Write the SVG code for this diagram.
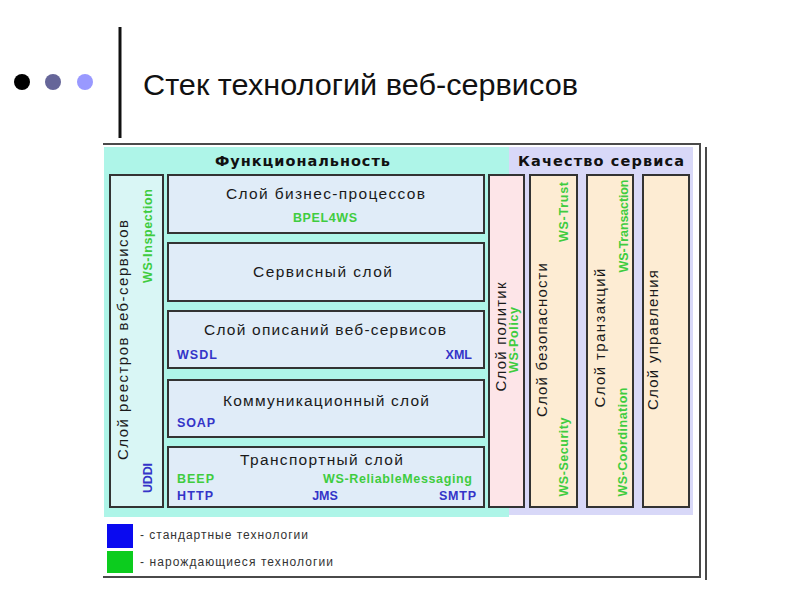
<svg xmlns="http://www.w3.org/2000/svg" width="800" height="600" viewBox="0 0 800 600">
<style>
.frame{stroke:#4a4a4a;stroke-width:2;fill:none}
.box{stroke:#333;stroke-width:2}
.lay{fill:#e0ecf8}
.reg{fill:#d9f6f5}
.pol{fill:#fde5e8}
.qos{fill:#fdecd3}
.hdr{font-family:"DejaVu Sans",sans-serif;font-weight:bold;font-size:14.5px;fill:#111}
.ttl{font-family:"Liberation Sans",Arial,sans-serif;font-size:15.5px;fill:#1a1a1a}
.vt{font-family:"Liberation Sans",Arial,sans-serif;font-size:15px;fill:#1a1a1a}
.g{font-family:"Liberation Sans",Arial,sans-serif;font-weight:bold;font-size:12.5px;fill:#3fcc3f}
.b{font-family:"Liberation Sans",Arial,sans-serif;font-weight:bold;font-size:12.5px;fill:#3434c8}
.leg{font-family:"Liberation Sans",Arial,sans-serif;font-size:12px;fill:#333}
</style>
<rect width="800" height="600" fill="#fff"/>
<g id="title">
<circle cx="22" cy="82" r="8" fill="#000"/>
<circle cx="53" cy="82" r="8" fill="#666699"/>
<circle cx="85" cy="82" r="8" fill="#9999ff"/>
<line x1="120" y1="27" x2="120" y2="138" stroke="#111" stroke-width="3"/>
<text x="143" y="95" font-family="Liberation Sans, Arial, sans-serif" font-size="30" fill="#111" textLength="435" lengthAdjust="spacingAndGlyphs">Стек технологий веб-сервисов</text>
</g>
<g id="frame">
<rect x="104" y="147" width="405" height="370" fill="#aef5e8"/>
<rect x="509" y="147" width="184" height="368" fill="#d8d8f8"/>
<polyline class="frame" points="103,144 700,144 700,577 103,577"/>
<line class="frame" x1="706" y1="147" x2="706" y2="580"/>
<text class="hdr" x="215" y="166" textLength="175" lengthAdjust="spacing">Функциональность</text>
<text class="hdr" x="518" y="166" textLength="166" lengthAdjust="spacing">Качество сервиса</text>
</g>
<g id="registry">
<rect class="box reg" x="110" y="175" width="53" height="332"/>
<text class="vt" transform="rotate(-90 128 340)" x="128" y="340" text-anchor="middle" textLength="240" lengthAdjust="spacing">Слой реестров веб-сервисов</text>
<text class="g" transform="rotate(-90 152 236)" x="152" y="236" text-anchor="middle" textLength="94" lengthAdjust="spacing">WS-Inspection</text>
<text class="b" transform="rotate(-90 152 478)" x="152" y="478" text-anchor="middle" textLength="30" lengthAdjust="spacing">UDDI</text>
</g>
<g id="business">
<rect class="box lay" x="168" y="175" width="316" height="58"/>
<text class="ttl" x="226" y="199" textLength="199" lengthAdjust="spacing">Слой бизнес-процессов</text>
<text class="g" x="325" y="222" text-anchor="middle" textLength="64" lengthAdjust="spacing">BPEL4WS</text>
</g>
<g id="service">
<rect class="box lay" x="168" y="243" width="316" height="58"/>
<text class="ttl" x="253" y="277" textLength="139" lengthAdjust="spacing">Сервисный слой</text>
</g>
<g id="description">
<rect class="box lay" x="168" y="311" width="316" height="57"/>
<text class="ttl" x="204" y="335" textLength="242" lengthAdjust="spacing">Слой описаний веб-сервисов</text>
<text class="b" x="177" y="359" textLength="40" lengthAdjust="spacing">WSDL</text>
<text class="b" x="472" y="359" text-anchor="end">XML</text>
</g>
<g id="communication">
<rect class="box lay" x="168" y="380" width="316" height="57"/>
<text class="ttl" x="223" y="406" textLength="206" lengthAdjust="spacing">Коммуникационный слой</text>
<text class="b" x="177" y="427" textLength="38" lengthAdjust="spacing">SOAP</text>
</g>
<g id="transport">
<rect class="box lay" x="168" y="447" width="316" height="60"/>
<text class="ttl" x="240" y="465" textLength="163" lengthAdjust="spacing">Транспортный слой</text>
<text class="g" x="177" y="483" textLength="37" lengthAdjust="spacing">BEEP</text>
<text class="g" x="472" y="483" text-anchor="end" textLength="149" lengthAdjust="spacing">WS-ReliableMessaging</text>
<text class="b" x="177" y="500" textLength="36" lengthAdjust="spacing">HTTP</text>
<text class="b" x="325" y="500" text-anchor="middle">JMS</text>
<text class="b" x="476" y="500" text-anchor="end" textLength="37" lengthAdjust="spacing">SMTP</text>
</g>
<g id="policy">
<rect class="box pol" x="489" y="175" width="35" height="332"/>
<text class="vt" transform="rotate(-90 506 337)" x="506" y="337" text-anchor="middle" textLength="109" lengthAdjust="spacing">Слой политик</text>
<text class="g" transform="rotate(-90 518 340)" x="518" y="340" text-anchor="middle" textLength="66" lengthAdjust="spacing">WS-Policy</text>
</g>
<g id="security">
<rect class="box qos" x="530" y="175" width="47" height="332"/>
<text class="vt" transform="rotate(-90 547 340)" x="547" y="340" text-anchor="middle" textLength="154" lengthAdjust="spacing">Слой безопасности</text>
<text class="g" transform="rotate(-90 568 212)" x="568" y="212" text-anchor="middle" textLength="60" lengthAdjust="spacing">WS-Trust</text>
<text class="g" transform="rotate(-90 568 457)" x="568" y="457" text-anchor="middle" textLength="79" lengthAdjust="spacing">WS-Security</text>
</g>
<g id="transactions">
<rect class="box qos" x="587" y="175" width="46" height="332"/>
<text class="vt" transform="rotate(-90 605 338)" x="605" y="338" text-anchor="middle" textLength="139" lengthAdjust="spacing">Слой транзакций</text>
<text class="g" transform="rotate(-90 628 226)" x="628" y="226" text-anchor="middle" textLength="93" lengthAdjust="spacing">WS-Transaction</text>
<text class="g" transform="rotate(-90 627 442)" x="627" y="442" text-anchor="middle" textLength="109" lengthAdjust="spacing">WS-Coordination</text>
</g>
<g id="management">
<rect class="box qos" x="643" y="175" width="46" height="332"/>
<text class="vt" transform="rotate(-90 658 340)" x="658" y="340" text-anchor="middle" textLength="140" lengthAdjust="spacing">Слой управления</text>
</g>
<g id="legend">
<rect x="107" y="524" width="26" height="24" fill="#0a0af0"/>
<rect x="107" y="551" width="26" height="22" fill="#0ccc1e"/>
<text class="leg" x="140" y="539" textLength="168" lengthAdjust="spacing">- стандартные технологии</text>
<text class="leg" x="140" y="566" textLength="193" lengthAdjust="spacing">- нарождающиеся технологии</text>
</g>
<g id="connectors"/>
</svg>
